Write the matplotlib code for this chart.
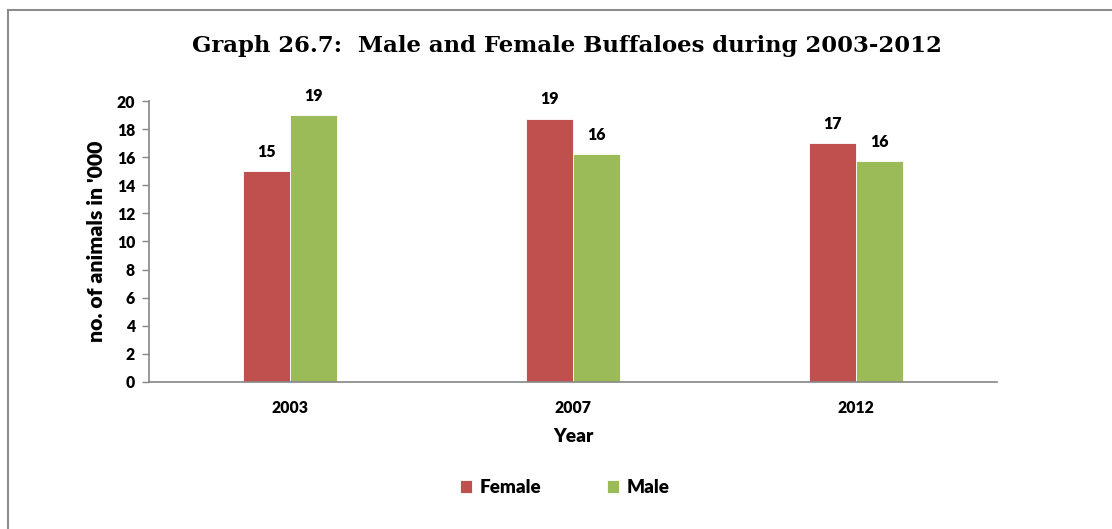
import numpy as np
import matplotlib.pyplot as plt
from matplotlib.lines import Line2D

years = ['2003', '2007', '2012']
female = [15.0, 18.75, 17.0]
male = [19.0, 16.25, 15.7]
female_labels = ['15', '19', '17']
male_labels = ['19', '16', '16']

red = '#C0504D'
green = '#9BBB59'
axis_grey = '#868686'

plt.rcParams['font.family'] = ['Lato', 'DejaVu Sans']

fig = plt.figure(figsize=(11.12, 5.29), dpi=100)
ax = fig.add_axes([0.134, 0.278, 0.763, 0.531])

x = np.arange(len(years))
w = 0.166
b1 = ax.bar(x - w / 2, female, w, color=red, edgecolor='white', linewidth=0.6, label='Female')
b2 = ax.bar(x + w / 2, male, w, color=green, edgecolor='white', linewidth=0.6, label='Male')

for bars, labs in ((b1, female_labels), (b2, male_labels)):
    for rect, lab in zip(bars, labs):
        ax.annotate(lab, (rect.get_x() + rect.get_width() / 2, rect.get_height()),
                    xytext=(0, 8), textcoords='offset points', ha='center', va='bottom',
                    fontsize=11.5, fontweight='heavy')

ax.set_xlim(-0.5, 2.5)
ax.set_ylim(0, 20)
ax.set_yticks(range(0, 21, 2))
ax.set_xticks(x)
ax.set_xticklabels(years, fontsize=11.3, fontweight='heavy')
for t in ax.get_yticklabels():
    t.set_fontsize(11.3)
    t.set_fontweight('heavy')
ax.tick_params(axis='x', length=0, pad=13)
ax.tick_params(axis='y', length=5, color=axis_grey, width=1, pad=5)

for s in ['top', 'right']:
    ax.spines[s].set_visible(False)
for s in ['left', 'bottom']:
    ax.spines[s].set_color(axis_grey)
    ax.spines[s].set_linewidth(1.2)

ax.set_ylabel("no. of animals in '000", fontsize=15.3, fontweight='heavy', labelpad=8)
ax.set_xlabel('Year', fontsize=13.8, fontweight='heavy', labelpad=9)

fig.suptitle('Graph 26.7:  Male and Female Buffaloes during 2003-2012',
             x=0.510, y=0.933, fontsize=16.4, fontweight='bold', family='DejaVu Serif')

ax.legend(loc='center', bbox_to_anchor=(0.508, 0.078), bbox_transform=fig.transFigure,
          ncol=2, frameon=False, prop={'size': 13.5, 'weight': 'heavy'},
          handlelength=0.65, handleheight=0.65, columnspacing=3.5, handletextpad=0.4)

# outer frame lines (top and left) like the source
fig.add_artist(Line2D([0.007, 1.0], [0.982, 0.982], transform=fig.transFigure, color='#8C8C8C', lw=1.5))
fig.add_artist(Line2D([0.007, 0.007], [0.0, 0.982], transform=fig.transFigure, color='#8C8C8C', lw=1.5))

fig.savefig('out.png', dpi=100)
